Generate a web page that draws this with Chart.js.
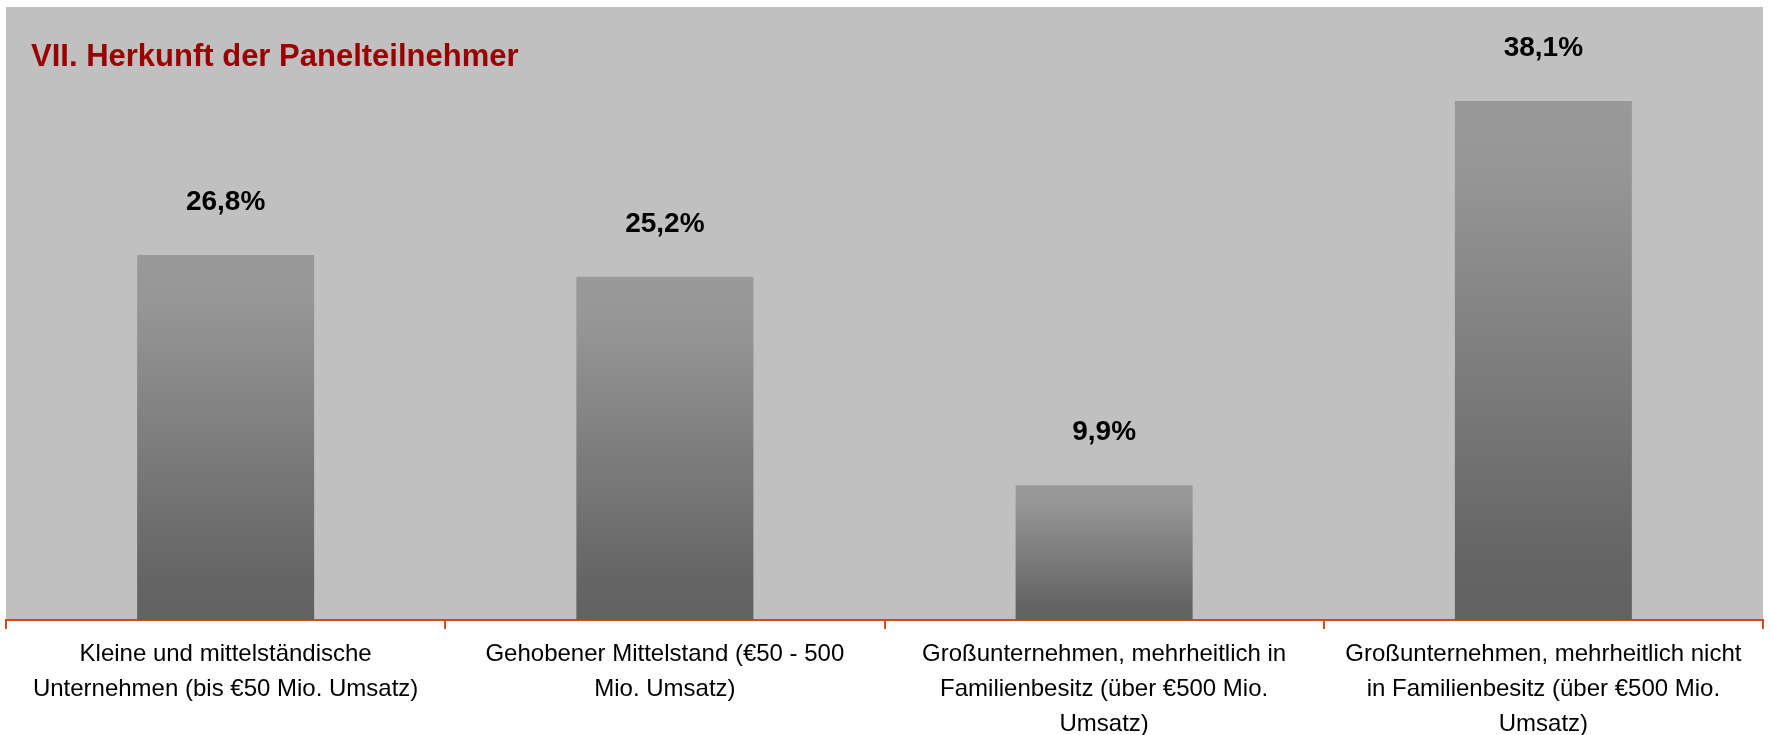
<!DOCTYPE html>
<html lang="de">
<head>
<meta charset="utf-8">
<title>Herkunft der Panelteilnehmer</title>
<script src="https://cdn.jsdelivr.net/npm/chart.js@4.4.1/dist/chart.umd.min.js"></script>
<style>
  html, body { margin: 0; padding: 0; background: #ffffff; }
  canvas { display: block; }
</style>
</head>
<body>
<canvas id="panelChart" width="1772" height="735"></canvas>
<script>
const categories = [
  ["Kleine und mittelständische", "Unternehmen (bis €50 Mio. Umsatz)"],
  ["Gehobener Mittelstand (€50 - 500", "Mio. Umsatz)"],
  ["Großunternehmen, mehrheitlich in", "Familienbesitz (über €500 Mio.", "Umsatz)"],
  ["Großunternehmen, mehrheitlich nicht", "in Familienbesitz (über €500 Mio.", "Umsatz)"]
];
const shares = [26.8, 25.2, 9.9, 38.1];
const valueLabels = ["26,8%", "25,2%", "9,9%", "38,1%"];
const chartTitle = "VII. Herkunft der Panelteilnehmer";

const axisRed = "#d6481e";
const fontFamily = "'Liberation Sans', Arial, Helvetica, sans-serif";

// grey panel behind the bars
const plotBackground = {
  id: "plotBackground",
  beforeDraw(chart) {
    const { ctx, chartArea } = chart;
    ctx.save();
    ctx.fillStyle = "#c0c0c0";
    ctx.fillRect(chartArea.left, chartArea.top, chartArea.right - chartArea.left, chartArea.bottom - chartArea.top);
    ctx.restore();
  }
};

// heading inside the panel, top left
const panelTitle = {
  id: "panelTitle",
  afterDraw(chart) {
    const { ctx, chartArea } = chart;
    ctx.save();
    ctx.font = "bold 31px " + fontFamily;
    ctx.fillStyle = "#990000";
    ctx.textAlign = "left";
    ctx.textBaseline = "alphabetic";
    ctx.fillText(chartTitle, chartArea.left + 25, chartArea.top + 59);
    ctx.restore();
  }
};

// percentage above each bar
const barValues = {
  id: "barValues",
  afterDatasetsDraw(chart) {
    const { ctx } = chart;
    const meta = chart.getDatasetMeta(0);
    ctx.save();
    ctx.font = "bold 28px " + fontFamily;
    ctx.fillStyle = "#000000";
    ctx.textAlign = "center";
    ctx.textBaseline = "alphabetic";
    meta.data.forEach((bar, i) => {
      ctx.fillText(valueLabels[i], bar.x, bar.y - 45);
    });
    ctx.restore();
  }
};

function barGradient(context) {
  const chart = context.chart;
  const { ctx, chartArea, scales } = chart;
  if (!chartArea || !scales.y) return "#808080";
  const value = context.raw;
  const top = scales.y.getPixelForValue(value);
  const base = scales.y.getPixelForValue(0);
  if (!isFinite(top) || !isFinite(base) || top === base) return "#808080";
  const g = ctx.createLinearGradient(0, top, 0, base);
  g.addColorStop(0, "#999999");
  g.addColorStop(0.12, "#979797");
  g.addColorStop(0.88, "#656565");
  g.addColorStop(1, "#626262");
  return g;
}

const ctx = document.getElementById("panelChart").getContext("2d");

new Chart(ctx, {
  type: "bar",
  data: {
    labels: categories,
    datasets: [{
      data: shares,
      backgroundColor: barGradient,
      borderWidth: 0,
      barPercentage: 0.403,
      categoryPercentage: 1.0
    }]
  },
  options: {
    responsive: false,
    devicePixelRatio: 1,
    animation: false,
    layout: {
      padding: { left: 6, right: 9, top: 7, bottom: 0 }
    },
    plugins: {
      legend: { display: false },
      tooltip: { enabled: false }
    },
    scales: {
      x: {
        offset: true,
        grid: {
          offset: true,
          drawOnChartArea: false,
          drawTicks: true,
          tickLength: 9,
          color: axisRed,
          lineWidth: 2
        },
        border: { display: true, color: axisRed, width: 2 },
        ticks: {
          color: "#000000",
          font: { family: fontFamily, size: 24, lineHeight: 35 / 24 },
          padding: 8,
          maxRotation: 0,
          minRotation: 0,
          autoSkip: false
        },
        afterFit(scale) {
          scale.height = 115;
        }
      },
      y: {
        display: false,
        min: 0,
        max: 45
      }
    }
  },
  plugins: [plotBackground, barValues, panelTitle]
});
</script>
</body>
</html>
